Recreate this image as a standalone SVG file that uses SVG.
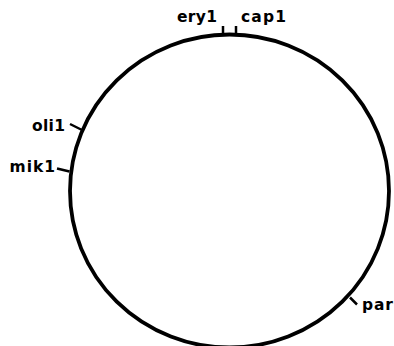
<svg xmlns="http://www.w3.org/2000/svg" width="394" height="346" viewBox="0 0 394 346">
<style>
.lbl{font-family:"DejaVu Sans","Liberation Sans",sans-serif;font-weight:bold;font-size:15.5px;fill:#000}
.tick{stroke:#000;stroke-width:2.5;fill:none;stroke-linecap:butt}
.ring{stroke:#000;stroke-width:3.8;fill:none}
</style>
<rect width="394" height="346" fill="#fff"/>
<g id="chromosome">
<ellipse class="ring" cx="229.5" cy="191" rx="159.5" ry="156.5"/>
</g>
<g id="connectors">
<line class="tick" x1="223" y1="26" x2="223" y2="36"/>
<line class="tick" x1="236" y1="26" x2="236" y2="36"/>
<line class="tick" x1="70" y1="124" x2="82" y2="130"/>
<line class="tick" x1="57" y1="168.5" x2="69.5" y2="171.5"/>
<line class="tick" x1="350" y1="297.5" x2="357" y2="304.5"/>
</g>
<g id="ery1"><text class="lbl" x="177" y="22" textLength="40" lengthAdjust="spacing">ery1</text></g>
<g id="cap1"><text class="lbl" x="241" y="22" textLength="45" lengthAdjust="spacing">cap1</text></g>
<g id="oli1"><text class="lbl" x="32" y="131" textLength="33" lengthAdjust="spacing">oli1</text></g>
<g id="mik1"><text class="lbl" x="9.5" y="172" textLength="45.5" lengthAdjust="spacing">mik1</text></g>
<g id="par"><text class="lbl" x="362" y="310" textLength="31" lengthAdjust="spacing">par</text></g>
</svg>
